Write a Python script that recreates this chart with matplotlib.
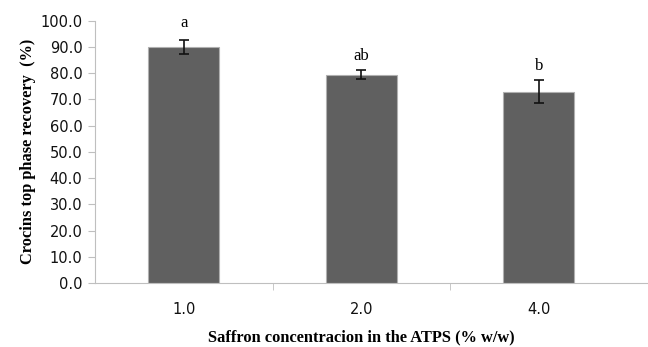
import matplotlib
matplotlib.use("Agg")
import matplotlib.pyplot as plt
import numpy as np

# data
categories = ["1.0", "2.0", "4.0"]
recovery = [89.9, 79.4, 73.0]
errors = [2.7, 1.7, 4.5]
letters = ["a", "ab", "b"]
yticks = [0, 10, 20, 30, 40, 50, 60, 70, 80, 90, 100]


def main():
    fig = plt.figure(figsize=(6.48, 3.47), dpi=100)
    ax = fig.add_axes([0.1466, 0.1844, 0.8534, 0.7559])

    x = np.arange(len(categories))
    ax.bar(x, recovery, width=0.4, color="#606060", edgecolor="#b0b0b0", linewidth=0.8, zorder=2)
    ax.errorbar(x, recovery, yerr=errors, fmt="none", ecolor="#111111",
                elinewidth=1.2, capsize=3.5, capthick=1.2, zorder=3)

    offs = [12, 10, 10]
    for xi, v, e, lab, o in zip(x, recovery, errors, letters, offs):
        ax.annotate(lab, (xi, v + e), xytext=(0, o), textcoords="offset points",
                    ha="center", va="center", fontsize=12, family="Liberation Serif")

    ax.set_ylim(0, 100)
    ax.set_xlim(-0.5, 2.615)
    ax.set_yticks(yticks)
    ax.set_yticklabels(["%.1f" % t for t in yticks], fontsize=10.5, color="#111111")
    ax.set_xticks(x)
    ax.set_xticklabels(categories, fontsize=10.5, color="#111111")
    ax.set_xticks([0.5, 1.5], minor=True)
    ax.tick_params(axis="x", which="major", length=0, pad=14)
    ax.tick_params(axis="x", which="minor", length=5, color="#bfbfbf", direction="out")
    ax.tick_params(axis="y", length=5, color="#bfbfbf", direction="out", pad=4)

    for s in ["top", "right"]:
        ax.spines[s].set_visible(False)
    ax.spines["left"].set_color("#bfbfbf")
    ax.spines["bottom"].set_color("#bfbfbf")

    ax.set_ylabel("Crocins top phase recovery  (%)", fontsize=11.8, fontweight="bold",
                  family="Liberation Serif", labelpad=3)
    ax.set_xlabel("Saffron concentracion in the ATPS (% w/w)", fontsize=11.8,
                  fontweight="bold", family="Liberation Serif")
    ax.xaxis.set_label_coords(0.482, -0.175)

    plt.savefig("out.png", dpi=100)


if __name__ == "__main__":
    main()
